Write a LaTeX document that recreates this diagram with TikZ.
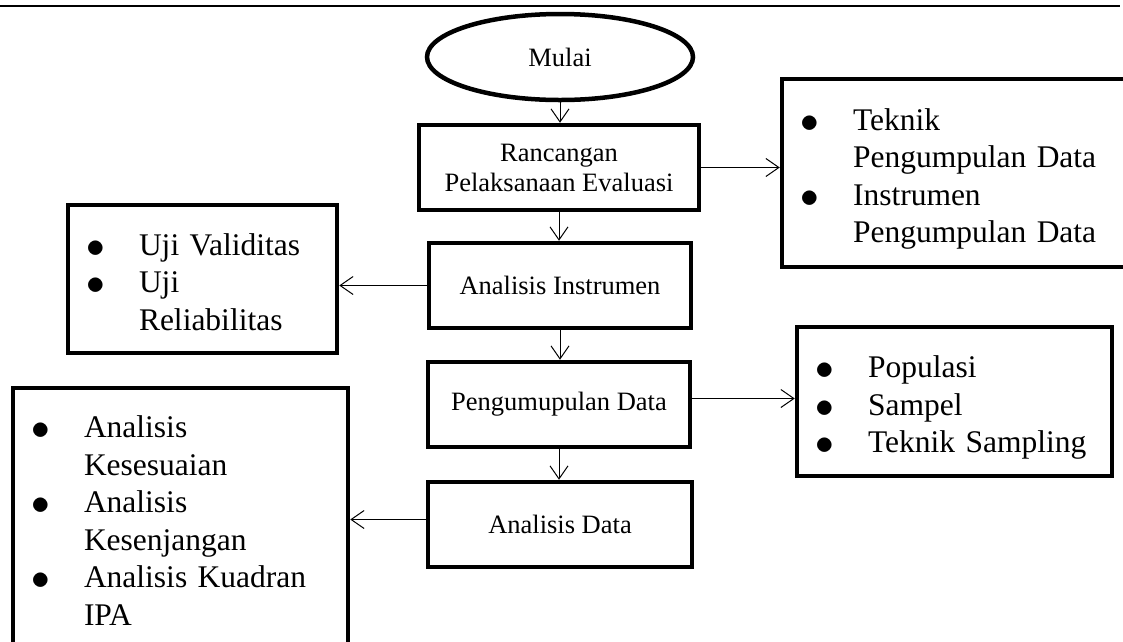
\documentclass[tikz,border=0pt]{standalone}
\usepackage{fontspec}
\setmainfont{Liberation Serif}
\usetikzlibrary{arrows.meta,shapes.geometric}

% styles for the flow chart
\tikzset{
  proses/.style={draw, rectangle, line width=4.5pt, minimum height=85pt,
    align=center, font=\fontsize{26.5}{30}\selectfont},
  daftar/.style={draw, rectangle, line width=4.5pt, inner xsep=18.2pt,
    align=left, font=\fontsize{31.5}{37.5}\selectfont},
  panah/.style={line width=1pt,
    -{Straight Barb[length=13pt,width=18pt,line width=1pt]}}
}

% bullet list inside a box: rows are  \titik & text \\
\newcommand{\titik}{\raisebox{-2pt}{\scalebox{1.5}{$\bullet$}}}
\newcommand{\isidaftar}[1]{\raisebox{-6pt}[\height][\depth]{%
  \begin{tabular}{@{}p{52.8pt}@{}l@{}}#1\end{tabular}}}

\begin{document}
\begin{tikzpicture}[x=1pt, y=-1pt]

\useasboundingbox (0,0) rectangle (1123,641);
\clip (0,0) rectangle (1123,641);

% header rule
\draw[line width=2.5pt] (0,6) -- (1120,6);

% main column
\node[ellipse, draw, line width=4.5pt, minimum width=266pt, minimum height=86pt,
  font=\fontsize{26.5}{30}\selectfont] (mulai) at (560,57) {Mulai};
\node[proses, minimum width=280pt] (rancangan) at (559,167.5)
  {Rancangan\\Pelaksanaan Evaluasi};
\node[proses, minimum width=262pt] (instrumen) at (560,285.5) {Analisis Instrumen};
\node[proses, minimum width=262pt] (kumpul) at (559,404.5) {Pengumupulan Data};
\node[proses, minimum width=264pt] (analisis) at (560,524.5) {Analisis Data};

% side boxes
\node[daftar, text width=321.6pt, minimum height=188pt] (teknik) at (961,173)
  {\isidaftar{\titik & Teknik\\ & Pengumpulan Data\\
   \titik & Instrumen\\ & Pengumpulan Data}};
\node[daftar, text width=232.6pt, minimum height=148pt] (uji) at (202.5,279)
  {\isidaftar{\titik & Uji Validitas\\ \titik & Uji\\ & Reliabilitas}};
\node[daftar, text width=278.6pt, minimum height=149pt] (sampel) at (954.5,401.5)
  {\isidaftar{\titik & Populasi\\ \titik & Sampel\\
   \titik & Teknik Sampling}};
\node[daftar, text width=298.6pt, minimum height=260pt] (hasil) at (180.5,518)
  {\isidaftar{\titik & Analisis\\ & Kesesuaian\\
   \titik & Analisis\\ & Kesenjangan\\
   \titik & Analisis Kuadran\\ & IPA}};

% vertical arrows
\draw[panah] (mulai.south) -- (mulai.south |- rancangan.north);
\draw[panah] (rancangan.south) -- (rancangan.south |- instrumen.north);
\draw[panah] (instrumen.south) -- (instrumen.south |- kumpul.north);
\draw[panah] (kumpul.south) -- (kumpul.south |- analisis.north);

% side arrows
\draw[panah] (rancangan.east) -- (rancangan.east -| teknik.west);
\draw[panah] (instrumen.west) -- (instrumen.west -| uji.east);
\draw[panah] ([yshift=6pt]kumpul.east) -- ([yshift=6pt]kumpul.east -| sampel.west);
\draw[panah] ([yshift=5pt]analisis.west) -- ([yshift=5pt]analisis.west -| hasil.east);

\end{tikzpicture}
\end{document}
